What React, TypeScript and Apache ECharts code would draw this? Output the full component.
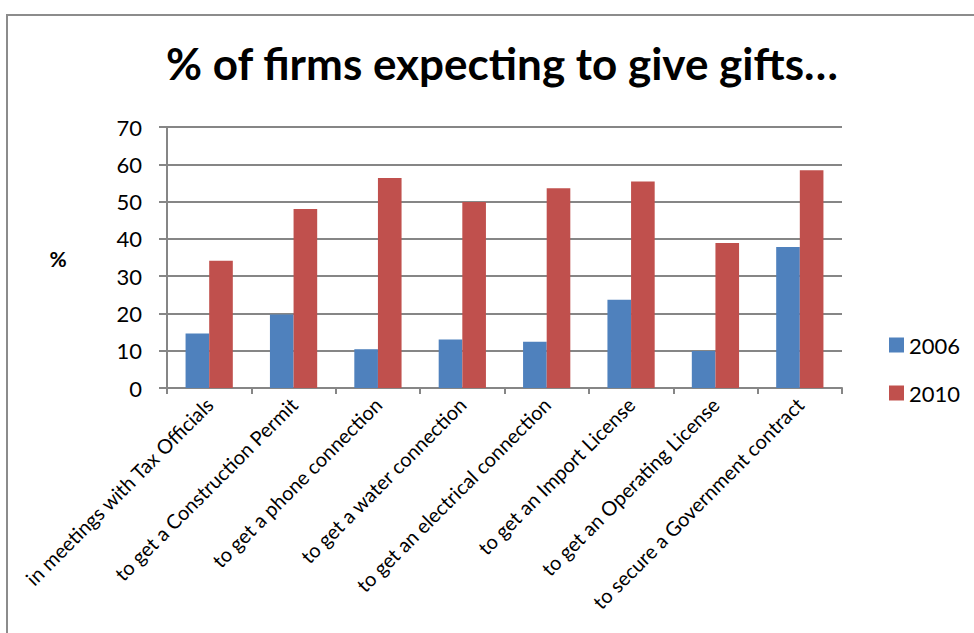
import React, { useEffect, useRef } from "react";
import * as echarts from "echarts";

const categories = [
  "in meetings with Tax Officials",
  "to get a Construction Permit",
  "to get a phone connection",
  "to get a water connection",
  "to get an electrical connection",
  "to get an Import License",
  "to get an Operating License",
  "to secure a Government contract",
];
const values2006 = [14.6, 19.7, 10.4, 13.0, 12.4, 23.7, 9.9, 37.8];
const values2010 = [34.1, 48.0, 56.3, 49.9, 53.6, 55.4, 38.9, 58.4];
const yTicks = { min: 0, max: 70, interval: 10 };

export default function App() {
  const ref = useRef<HTMLDivElement>(null);
  useEffect(() => {
    document.body.style.margin = "0";
    const chart = echarts.init(ref.current!, null, { renderer: "svg" });
    const font = "Lato, 'Open Sans', sans-serif";
    chart.setOption({
      animation: false,
      backgroundColor: "#ffffff",
      title: {
        text: "% of firms expecting to give gifts\u2026",
        left: 497,
        textAlign: "center",
        top: 36,
        textStyle: { fontFamily: font, fontWeight: "bold", fontSize: 44, color: "#000" },
      },
      graphic: [
        {
          type: "rect",
          shape: { x: 7, y: 15, width: 1000, height: 700 },
          style: { fill: "none", stroke: "#8c8c8c", lineWidth: 2 },
          silent: true,
        },
        {
          type: "text",
          x: 58,
          y: 258,
          style: { text: "%", fontFamily: font, fontWeight: "bold", fontSize: 21, fill: "#000", align: "center", verticalAlign: "middle" },
        },
      ],
      legend: {
        orient: "vertical",
        left: 884,
        top: 329,
        itemWidth: 15,
        itemHeight: 15,
        itemGap: 26,
        icon: "rect",
        textStyle: { fontFamily: font, fontSize: 22, lineHeight: 22, color: "#000", padding: [0, 0, 0, 0] },
        data: ["2006", "2010"],
      },
      grid: { left: 167, right: 132, top: 127, bottom: 245, containLabel: false },
      xAxis: {
        type: "category",
        data: categories,
        axisLine: { lineStyle: { color: "#868686", width: 2 } },
        axisTick: { show: true, length: 6, lineStyle: { color: "#868686", width: 2 } },
        axisLabel: {
          rotate: 45,
          interval: 0,
          margin: 13,
          fontFamily: font,
          fontSize: 20,
          color: "#000",
        },
      },
      yAxis: {
        type: "value",
        min: yTicks.min,
        max: yTicks.max,
        interval: yTicks.interval,
        axisLine: { show: true, lineStyle: { color: "#868686", width: 2 } },
        axisTick: { show: true, length: 8, lineStyle: { color: "#868686", width: 2 } },
        splitLine: { lineStyle: { color: "#868686", width: 2 } },
        axisLabel: { fontFamily: font, fontSize: 22, color: "#000", margin: 25 },
      },
      series: [
        {
          name: "2006",
          type: "bar",
          data: values2006,
          itemStyle: { color: "#4F81BD" },
          barGap: "0%",
          barCategoryGap: "44%",
        },
        {
          name: "2010",
          type: "bar",
          data: values2010,
          itemStyle: { color: "#C0504D" },
          barGap: "0%",
          barCategoryGap: "44%",
        },
      ],
    });
    return () => chart.dispose();
  }, []);
  return <div ref={ref} style={{ width: 974, height: 633 }} />;
}
